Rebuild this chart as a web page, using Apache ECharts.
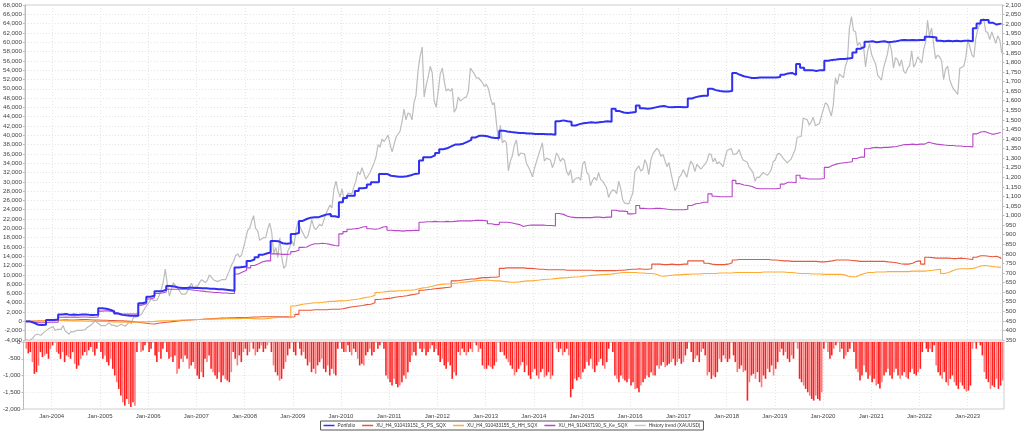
<!DOCTYPE html>
<html><head><meta charset="utf-8">
<script src="https://cdn.jsdelivr.net/npm/echarts@6/dist/echarts.min.js"></script>
<style>html,body{margin:0;padding:0;background:#fff;}#c{width:1024px;height:432px;}</style>
</head><body><div id="c"></div>
<script>
// Monthly series start June 2003 (mid-month points); semi-monthly series: 8th and 23rd of each month
const START_YEAR = 2003, START_MONTH = 6;
const seriesNames = ['Portfolio','XU_H4_910419151_S_PS_SQX','XU_H4_910433155_S_HH_SQX','XU_H4_910437190_S_Ke_SQX','History trend (XAUUSD)'];

const portfolio = [
 0,-300,-700,-800,-700,300,300,
 400,1500,1600,1400,1500,1400,1500,1500,1400,1400,1450,2800,
 2700,2500,2200,1700,1400,1300,1200,1200,1200,3900,4100,5300,
 5500,6500,6500,6800,7600,7500,7300,7200,7200,7300,7200,7200,
 7100,7100,7000,7000,6900,6900,6800,6700,6600,11600,11700,11800,
 13000,13300,13800,14300,14600,14800,17300,17200,16800,16700,16800,18800,
 19000,21600,22000,22300,22400,22400,22700,23000,23100,22600,22400,25600,
 26500,27000,27000,28000,28600,28700,29400,29900,29900,31700,31700,31300,
 31200,31100,31100,31200,31400,31700,31800,34600,35300,35300,35700,36200,
 37000,37200,37600,38000,38000,38200,38600,39000,39500,39900,39900,39800,
 39500,39400,39400,41000,40800,40700,40600,40500,40500,40400,40400,40300,
 40300,40300,40200,40200,40100,43000,43200,43000,42900,42100,42400,42600,
 42700,42800,42700,42800,42900,43000,42900,45700,45200,44900,44800,44900,
 45000,46400,45800,45700,45800,46000,46200,46300,46100,46000,46100,46100,
 46000,46100,47900,48200,48400,48500,48500,50000,49700,49500,49400,49400,
 49500,53400,53000,52700,52500,52300,52300,52400,52400,52400,52400,52400,
 52500,53000,53300,53400,53000,55300,54500,54000,54000,53800,54000,54000,
 56000,56200,56300,56400,56400,56500,56600,57800,58600,59000,60100,60200,
 60000,60100,60200,60000,60100,60200,60400,60500,60400,60500,60400,60500,
 60500,61200,61100,61000,60300,60200,60300,60200,60300,60200,60300,60300,
 60200,63000,64000,64800,64800,64200,63800,64000,63800
];
const ps = [
 0,50,100,150,200,250,300,
 250,300,350,300,300,350,400,400,350,300,300,250,
 250,200,200,150,100,50,0,-100,-200,-300,-400,-500,
 -550,-400,-300,-200,-100,0,100,200,250,300,350,400,
 450,500,550,600,650,700,700,750,750,800,800,850,
 900,950,950,1000,1000,1000,1000,1000,1000,1000,950,1000,
 1500,2400,2400,2400,2500,2500,2500,2500,2600,2600,2600,2700,
 2900,3100,3200,3300,3400,3600,3700,4000,4700,4800,4900,5000,
 5200,5300,5400,5500,5700,5850,6000,6700,6800,6900,7000,7100,
 7200,7300,7400,8700,8800,8900,9000,9100,9100,9300,9400,9400,
 9500,9500,9600,11400,11500,11500,11500,11500,11500,11400,11400,11300,
 11200,11200,11100,11100,11100,11100,11100,11000,11000,11000,11000,11000,
 11000,11000,10900,10900,10900,10900,10900,10900,11000,11000,11100,11200,
 11200,11300,11200,11200,11300,12300,12300,12200,12200,12300,12200,12200,
 12300,12300,13000,13000,13000,13000,12500,12300,12200,12200,12200,12300,
 12600,13200,13300,13300,13300,13300,13300,13300,13300,13300,13200,13200,
 13100,13000,13000,12900,12900,12900,12900,12900,12900,12900,12800,12800,
 12900,13000,13200,13200,13200,13200,13100,13000,12900,12900,12900,12900,
 12900,12900,12900,12800,12700,12600,12400,12300,12300,12500,12900,13000,
 12300,13800,13700,13600,13600,13600,13600,13500,13500,13600,13500,13400,
 13300,13800,14100,14100,14000,13900,14000,13600,13400
];
const hh = [
 0,0,50,100,100,150,150,
 200,200,150,150,100,100,100,50,50,0,0,0,
 0,-50,-100,-100,-150,-150,-150,-150,-100,-100,-100,-50,
 0,50,100,150,150,200,250,300,300,350,400,400,
 450,450,500,500,550,550,600,600,600,600,650,650,
 650,600,550,500,600,700,800,850,900,850,800,3300,
 3500,3700,3800,3900,4000,4000,4100,4200,4300,4300,4400,4400,
 4500,4600,4700,4800,5000,5200,5300,5600,6200,6300,6400,6500,
 6500,6600,6600,6700,6700,6800,7000,7200,7300,7500,7700,7900,
 8000,8050,8100,8200,8300,8400,8500,8600,8700,8800,8850,8900,
 8800,8700,8700,8600,8500,8400,8400,8500,8600,8700,8700,8800,
 8900,9000,9050,9100,9200,9300,9350,9400,9500,9550,9600,9700,
 9800,9900,9950,10000,10050,10100,10150,10300,10400,10500,10500,10500,
 10500,10400,10400,10300,10300,10200,9800,9700,9800,9900,10000,10000,
 10100,10100,10200,10200,10200,10300,10300,10300,10300,10400,10400,10400,
 10400,10500,10500,10500,10500,10500,10500,10500,10600,10600,10600,10600,
 10600,10600,10500,10500,10400,10300,10300,10300,10200,10200,10200,10100,
 10100,10100,10100,10100,10000,9700,9600,9600,10000,10300,10500,10500,
 10600,10600,10600,10700,10700,10700,10700,10700,10700,10800,10800,10800,
 10800,10900,11000,11100,11200,10300,10500,10900,11200,11300,11300,11300,
 11400,11600,11900,12000,11900,11800,11700,11600,11500
];
const ke = [
 0,-200,-300,-300,-300,-200,-200,
 -200,900,950,900,950,900,950,950,900,900,950,2200,
 2300,2200,2000,1800,1600,1600,1600,1600,1600,3500,3800,4800,
 5100,6000,6100,6300,6900,6900,6900,6900,6900,6800,6700,6600,
 6500,6400,6300,6200,6200,6100,6100,6000,6000,10200,10600,11000,
 11500,12000,12400,12800,13000,13000,14500,14500,14400,14400,14500,15000,
 15300,15900,16000,16400,16700,16700,16800,16700,16500,16300,16200,18800,
 19300,19800,19900,20000,20300,20400,19900,19800,19900,20300,20400,19600,
 19500,19500,19400,19500,19500,19600,19500,21300,21400,21400,21500,21400,
 21400,21500,21400,21500,21600,21600,21600,21600,21700,21700,21700,21600,
 21000,20800,20800,21300,21300,21200,21000,20800,20400,20600,20700,20700,
 20700,20700,20600,20600,20500,23200,23000,22600,22400,22300,22300,22300,
 22300,22300,22400,22400,22300,22400,22400,23900,23700,23700,23600,23100,
 23200,24900,24300,24200,24200,24300,24300,24200,24100,24000,24000,24000,
 24000,24100,24900,25300,25400,25600,25600,27400,26900,26800,26800,26800,
 26800,30300,29600,29300,29200,29000,28600,28500,28500,28500,28500,28500,
 28600,29500,29900,29900,29800,31400,30800,30600,30600,30600,30600,30700,
 33100,33500,33800,34000,34100,34200,34300,35000,35300,35300,37100,37300,
 37400,37300,37400,37400,37500,37600,37800,38000,38000,38100,38000,38100,
 38100,38500,38300,38100,38000,37900,37800,37800,37700,37700,37600,37600,
 37500,40300,40700,40800,40500,40200,40400,40600,40500
];
// gold, two readings per month
const gold = [
 356,346, 345,354, 360,375, 380,385, 375,386, 395,398, 410,416,
 420,400, 405,397, 405,426, 398,388, 380,394, 392,395, 400,391, 400,408, 405,416, 420,428, 440,453, 440,438,
 425,422, 425,435, 440,428, 428,435, 420,417, 432,436, 422,430, 445,434, 468,473, 472,470, 485,495, 520,513,
 550,568, 555,556, 560,583, 615,654, 720,643, 580,614, 650,633, 625,624, 590,600, 590,604, 630,646, 620,632,
 630,651, 665,667, 650,662, 690,678, 665,660, 655,650, 665,666, 665,673, 715,743, 760,790, 800,783, 795,834,
 880,923, 935,972, 1000,933, 920,871, 880,885, 885,930, 960,914, 800,833, 780,884, 780,724, 740,816, 835,870,
 840,919, 970,942, 920,916, 880,891, 930,979, 940,927, 935,955, 945,955, 1010,1006, 1055,1040, 1140,1180, 1130,1096,
 1140,1081, 1100,1117, 1120,1113, 1150,1180, 1230,1213, 1250,1245, 1190,1180, 1225,1248, 1275,1307, 1370,1357, 1400,1386, 1390,1421,
 1370,1333, 1375,1411, 1420,1439, 1490,1556, 1500,1536, 1530,1500, 1590,1628, 1760,1830, 1880,1620, 1680,1722, 1780,1746, 1600,1566,
 1650,1740, 1770,1700, 1650,1662, 1650,1664, 1540,1559, 1620,1598, 1590,1615, 1620,1648, 1770,1772, 1740,1719, 1720,1713, 1695,1675,
 1685,1663, 1610,1578, 1590,1596, 1390,1472, 1380,1393, 1380,1234, 1285,1312, 1370,1395, 1310,1327, 1320,1323, 1270,1253, 1230,1202,
 1250,1244, 1320,1326, 1380,1284, 1300,1296, 1290,1250, 1280,1327, 1310,1282, 1300,1287, 1230,1210, 1240,1171, 1190,1183, 1200,1184,
 1270,1283, 1225,1213, 1155,1183, 1200,1183, 1225,1190, 1180,1172, 1145,1095, 1120,1134, 1130,1115, 1180,1142, 1080,1065, 1065,1061,
 1090,1118, 1230,1238, 1260,1233, 1240,1292, 1270,1214, 1290,1322, 1330,1351, 1340,1309, 1320,1316, 1255,1277, 1220,1173, 1130,1152,
 1200,1211, 1240,1249, 1200,1249, 1285,1268, 1230,1268, 1255,1242, 1235,1269, 1285,1322, 1320,1280, 1300,1271, 1280,1275, 1255,1303,
 1340,1345, 1350,1318, 1320,1325, 1345,1315, 1290,1298, 1280,1253, 1240,1224, 1180,1201, 1200,1192, 1225,1215, 1210,1222, 1240,1282,
 1290,1321, 1325,1313, 1300,1292, 1275,1283, 1295,1305, 1345,1409, 1415,1413, 1510,1520, 1500,1472, 1490,1513, 1470,1464, 1480,1517,
 1555,1589, 1580,1585, 1520,1577, 1720,1686, 1740,1730, 1720,1781, 1810,1975, 2040,1967, 1960,1886, 1905,1879, 1880,1777, 1855,1898,
 1840,1848, 1790,1734, 1730,1708, 1770,1769, 1845,1907, 1860,1770, 1825,1814, 1780,1814, 1755,1743, 1770,1783, 1860,1775, 1795,1829,
 1815,1797, 1870,1909, 2020,1937, 1980,1897, 1820,1838, 1830,1807, 1710,1766, 1780,1711, 1680,1660, 1650,1633, 1770,1769, 1780,1824,
 1920,1928, 1840,1827, 1920,1969, 2000,1990, 2030,1963, 1955,1919, 1960,1965, 1900,1940, 1915,1849
];
// drawdown, two readings per month
const drawdown = [
 0,-200, -340,-300, -600,-950, -900,-700, -300,-450, -400,-350, -500,-200,
 -100,0, -300,-350, -500,-300, -600,-400, -450,-500, -300,-650, -800,-700, -500,-400, -300,-400, -250,-150, -300,-400, -200,0,
 -300,-500, -400,-600, -700,-500, -800,-1000, -1200,-1400, -1600,-1800, -1900,-1700, -1850,-1940, -1800,-1900, -300,0, -300,-250, -100,0,
 -300,-200, 0,-400, -600,-300, -500,-200, 0,-300, -500,-450, -600,-400, -950,-800, -500,-600, -400,-500, -800,-700, -600,-800,
 -1000,-1100, -900,-1050, -500,-600, -400,-800, -900,-1000, -1100,-900, -1200,-1000, -1100,-1150, -1200,-900, -300,-500, -700,-400, -600,-300,
 -200,-400, -300,0, -200,-400, -300,-200, -100,-300, -200,-100, 0,-300, -700,-900, -1000,-1150, -1100,-800, -600,-400, -200,0,
 -300,-400, 0,-200, -400,-300, -500,-700, -600,-900, -800,-950, -700,-600, -500,-800, -900,-700, -1000,-800, -950,-1000, -200,0,
 -200,-300, -300,-100, -300,-400, -200,-300, -500,-700, -650,-700, -400,-300, -200,-400, -300,0, -200,-100, 0,-200, -1000,-1100,
 -1200,-1300, -1100,-1250, -1350,-1300, -1200,-1000, -1100,-900, -600,-400, -300,-400, 0,-200, -300,-200, -400,-300, -200,-100, -300,-200,
 -400,-600, -500,-700, -800,-600, -700,-1100, -900,-1000, -300,-400, -200,-300, -400,-300, -200,-300, 0,-100, -300,-200, -700,-800,
 -800,-700, -750,-800, -700,-600, 0,-300, -300,-400, -500,-600, -700,-800, -1000,-900, -800,-700, -600,-900, -700,-1000, -1100,-900,
 -800,-1000, -1100,-900, -800,-1050, -1000,-900, -1100,-1000, 0,-200, -300,-200, -400,-300, -200,-400, -1650,-1400, -1100,-1150, -1050,-1100,
 -900,-800, -600,-700, -500,-800, -900,-700, -600,-500, -700,-800, -600,-200, 0,-300, -1000,-1100, -1200,-1000, -1100,-1150, -1200,-1100,
 -1300,-1200, -1400,-1380, -1500,-1300, -1200,-1100, -1000,-1050, -900,-1000, -1000,-700, -800,-700, -600,-750, -700,-650, -600,-500, -700,-600,
 -500,-650, -600,-400, -200,0, -300,-600, -500,-400, -600,-300, -200,-400, -1000,-900, -1100,-1000, -1050,-900, -500,-600, -400,-500,
 -600,-500, 0,-400, -600,-900, -800,-700, -900,-850, -1750,-1200, -1000,-950, -1100,-900, -1200,-1350, -1000,-1100, -800,-900, -700,-1000,
 -800,-600, -300,-200, -400,-300, -500,-600, -400,-500, 0,-200, -1100,-1200, -1300,-1400, -1500,-1600, -1700,-1750, -1600,-1700, -1750,-1500,
 -200,0, -300,-500, -400,-200, -100,0, -300,-200, -500,-400, -300,-200, 0,-300, -800,-900, -1150,-1000, -700,-900, -1100,-1000,
 -1200,-1100, -1300,-1250, -1390,-1200, -1000,-900, -800,-1000, -1100,-900, -800,-1000, -1100,-1000, -900,-1050, -1100,-900, -800,-950, -1000,-900,
 -800,-300, 0,-200, -300,-200, -300,-100, -700,-900, -1000,-1100, -900,-1200, -1300,-1100, -1000,-1200, -1300,-1400, -1200,-1300, -1400,-1480,
 -1450,-1300, -200,0, -200,0, -100,-400, -900,-1100, -1200,-1400, -1300,-1350, -1100,-1400, -1300,-1150
];

function pad(n){return String(n).padStart(2,'0');}
function monthlyDates(n){const out=[];for(let i=0;i<n;i++){const m=START_MONTH-1+i;out.push((START_YEAR+Math.floor(m/12))+'-'+pad(m%12+1)+'-15');}return out;}
function semiDates(n){const out=[];for(let i=0;i<n;i++){const m=START_MONTH-1+Math.floor(i/2);out.push((START_YEAR+Math.floor(m/12))+'-'+pad(m%12+1)+'-'+(i%2?'23':'08'));}return out;}
function zip(d,v){return v.map((y,i)=>[d[i],y]);}
const md = monthlyDates(portfolio.length);
const sd = semiDates(gold.length);
const dd = semiDates(drawdown.length);

const fmt = v => Number(v).toLocaleString('en-US');
const FONT = 'Liberation Sans';
const labelStyle = {fontSize:6.2, color:'#444', fontFamily:FONT};
const gridLine = {show:true, lineStyle:{color:'#e4e4e4', type:[1,2], width:1}};
const X_MIN = '2003-06-08', X_MAX = '2023-09-28';
const YEAR = 365*24*3600*1000;

const chart = echarts.init(document.getElementById('c'), null, {renderer:'canvas'});
chart.setOption({
  animation:false,
  backgroundColor:'#fff',
  textStyle:{fontFamily:FONT},
  grid:[
    {left:23, right:20, top:5, height:335, show:true, borderColor:'#cfcfcf', borderWidth:1},
    {left:23, right:20, top:342, height:67, show:true, borderColor:'#cfcfcf', borderWidth:1}
  ],
  xAxis:[
    {type:'time', gridIndex:0, min:X_MIN, max:X_MAX, minInterval:YEAR, maxInterval:366*24*3600*1000, splitNumber:20,
     axisLabel:{show:false}, axisTick:{show:false}, axisLine:{show:false}, splitLine:gridLine},
    {type:'time', gridIndex:1, min:X_MIN, max:X_MAX, minInterval:YEAR, maxInterval:366*24*3600*1000, splitNumber:20,
     axisLabel:Object.assign({formatter:function(v){return 'Jan-'+new Date(v).getFullYear();}, margin:4, hideOverlap:false}, labelStyle, {fontSize:6}),
     axisTick:{show:false}, axisLine:{lineStyle:{color:'#cfcfcf'}}, splitLine:gridLine}
  ],
  yAxis:[
    {type:'value', gridIndex:0, position:'left', min:-4000, max:68000, interval:2000,
     axisLabel:Object.assign({formatter:fmt, margin:3}, labelStyle),
     axisLine:{show:true, lineStyle:{color:'#bbb'}}, axisTick:{show:true, length:2, lineStyle:{color:'#bbb'}}, splitLine:gridLine},
    {type:'value', gridIndex:0, position:'right', min:350, max:2100, interval:50,
     axisLabel:Object.assign({formatter:fmt, margin:3}, labelStyle),
     axisLine:{show:true, lineStyle:{color:'#bbb'}}, axisTick:{show:true, length:2, lineStyle:{color:'#bbb'}}, splitLine:{show:false}},
    {type:'value', gridIndex:1, position:'left', min:-2000, max:0, interval:500,
     axisLabel:Object.assign({formatter:fmt, margin:3}, labelStyle),
     axisLine:{show:true, lineStyle:{color:'#bbb'}}, axisTick:{show:true, length:2, lineStyle:{color:'#bbb'}}, splitLine:gridLine}
  ],
  legend:{
    data:seriesNames, bottom:2, left:'center', orient:'horizontal',
    borderColor:'#555', borderWidth:1, padding:[2,3], itemGap:7,
    itemWidth:11, itemHeight:1.5, icon:'rect',
    textStyle:{fontSize:4.8, color:'#333', fontFamily:FONT, padding:[0,0,0,-2]}
  },
  series:[
    {name:seriesNames[4], type:'line', xAxisIndex:0, yAxisIndex:1, data:zip(sd,gold), showSymbol:false,
     lineStyle:{color:'#bdbdbd', width:1.2}, itemStyle:{color:'#c8c8c8'}, z:1},
    {name:seriesNames[1], type:'line', step:'end', xAxisIndex:0, yAxisIndex:0, data:zip(md,ps), showSymbol:false,
     lineStyle:{color:'#e8573a', width:1.1}, itemStyle:{color:'#e8573a'}, z:3},
    {name:seriesNames[2], type:'line', step:'end', xAxisIndex:0, yAxisIndex:0, data:zip(md,hh), showSymbol:false,
     lineStyle:{color:'#ffaa33', width:1.1}, itemStyle:{color:'#ffaa33'}, z:3},
    {name:seriesNames[3], type:'line', step:'end', xAxisIndex:0, yAxisIndex:0, data:zip(md,ke), showSymbol:false,
     lineStyle:{color:'#b847c8', width:1.1}, itemStyle:{color:'#b847c8'}, z:3},
    {name:seriesNames[0], type:'line', step:'end', xAxisIndex:0, yAxisIndex:0, data:zip(md,portfolio), showSymbol:false,
     lineStyle:{color:'#3030f0', width:2}, itemStyle:{color:'#3030f0'}, z:5},
    {name:'Drawdown', type:'bar', xAxisIndex:1, yAxisIndex:2, data:zip(dd,drawdown), barWidth:1.6,
     itemStyle:{color:function(p){return p.dataIndex%3===1?'#ff7a7a':'#ff2020';}}, z:2}
  ]
});
</script>
</body></html>
